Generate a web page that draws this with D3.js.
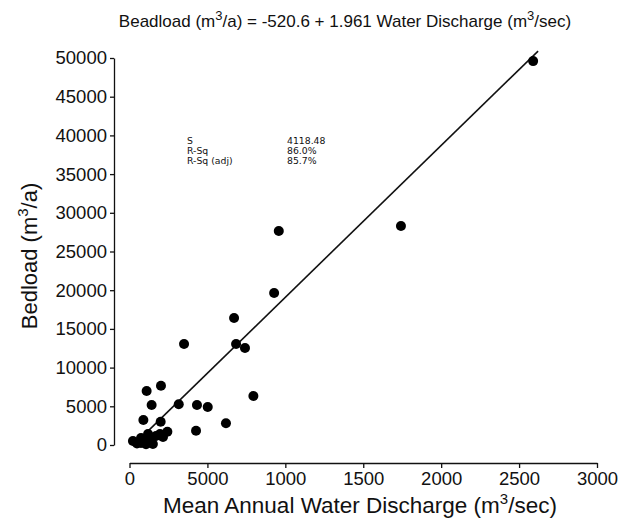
<!DOCTYPE html>
<html>
<head>
<meta charset="utf-8">
<script src="https://cdn.jsdelivr.net/npm/d3@7"></script>
<style>
  body { margin: 0; background: #fff; }
  text { font-family: "Liberation Sans", Arial, sans-serif; fill: #111; }
  .axis path, .axis line { stroke: #111; stroke-width: 1.3; }
  .stats text { font-family: "DejaVu Sans", Verdana, sans-serif; font-size: 9.3px; }
</style>
</head>
<body>
<svg class="chart"></svg>
<script>
// mean annual water discharge (m3/sec) and bedload (m3/a)
var discharge = [2590, 1742, 958, 928, 671, 350, 684, 741, 795,
                 110, 202, 142, 316, 433, 502, 89, 200, 619, 427, 243,
                 22, 48, 74, 100, 125, 144, 170, 196, 215, 106, 150, 74, 119];
var bedload   = [49600, 28300, 27650, 19640, 16400, 13050, 13050, 12530, 6330,
                 6980, 7660, 5170, 5260, 5170, 4910, 3230, 3010, 2800, 1850, 1720,
                 520, 200, 260, 650, 390, 900, 1160, 1420, 1030, 100, 130, 900, 1420];

var xTicks = [0, 500, 1000, 1500, 2000, 2500, 3000];
// the original plot prints "5000" under the 500 tick
var xTickLabels = ["0", "5000", "1000", "1500", "2000", "2500", "3000"];
var yTicks = [0, 5000, 10000, 15000, 20000, 25000, 30000, 35000, 40000, 45000, 50000];

// fitted line (as drawn on the plot) and its extent
var fitIntercept = -520.6;
var fitSlope = 19.61;
var fitRange = [110, 2622];

var statLabels = ["S", "R-Sq", "R-Sq (adj)"];
var statValues = ["4118.48", "86.0%", "85.7%"];

var width = 632, height = 523;
var svg = d3.select(".chart").attr("width", width).attr("height", height);

var x = d3.scaleLinear().domain([0, 3000]).range([129.5, 597]);
var y = d3.scaleLinear().domain([0, 50000]).range([445, 58]);

// x axis, sits below the data area
svg.append("g")
   .attr("class", "axis")
   .attr("transform", "translate(0,463)")
   .call(d3.axisBottom(x).tickValues(xTicks)
          .tickFormat(function(d, i) { return xTickLabels[i]; })
          .tickSizeInner(5).tickSizeOuter(0).tickPadding(4))
   .selectAll("text").style("font-size", "18.5px").style("font-family", "Liberation Sans, Arial, sans-serif");

// y axis, sits left of the data area
svg.append("g")
   .attr("class", "axis")
   .attr("transform", "translate(114,0)")
   .call(d3.axisLeft(y).tickValues(yTicks).tickFormat(d3.format("d"))
          .tickSizeInner(4).tickSizeOuter(0).tickPadding(3))
   .selectAll("text").style("font-size", "18.5px").style("font-family", "Liberation Sans, Arial, sans-serif");

svg.selectAll(".axis .domain").attr("stroke", "#111");

// fitted line
var fitLine = d3.line()
  .x(function(d) { return x(d); })
  .y(function(d) { return y(fitIntercept + fitSlope * d); });

svg.append("path")
   .datum(fitRange)
   .attr("d", fitLine)
   .attr("fill", "none")
   .attr("stroke", "#111")
   .attr("stroke-width", 1.6);

// points
svg.selectAll("circle.pt")
   .data(d3.range(discharge.length))
   .enter().append("circle")
   .attr("class", "pt")
   .attr("cx", function(i) { return x(discharge[i]); })
   .attr("cy", function(i) { return y(bedload[i]); })
   .attr("r", 5)
   .attr("fill", "#000");

// title
var title = svg.append("text")
   .attr("x", 345).attr("y", 27)
   .attr("text-anchor", "middle")
   .style("font-size", "17px");
title.append("tspan").text("Beadload (m");
title.append("tspan").attr("dy", "-7").style("font-size", "13px").text("3");
title.append("tspan").attr("dy", "7").text("/a) = -520.6 + 1.961 Water Discharge (m");
title.append("tspan").attr("dy", "-7").style("font-size", "13px").text("3");
title.append("tspan").attr("dy", "7").text("/sec)");

// x label
var xl = svg.append("text")
   .attr("x", 360).attr("y", 513)
   .attr("text-anchor", "middle")
   .style("font-size", "22.5px");
xl.append("tspan").text("Mean Annual Water Discharge (m");
xl.append("tspan").attr("dy", "-9").style("font-size", "15px").text("3");
xl.append("tspan").attr("dy", "9").text("/sec)");

// y label
var yl = svg.append("text")
   .attr("transform", "translate(37,256) rotate(-90)")
   .attr("text-anchor", "middle")
   .style("font-size", "22px");
yl.append("tspan").text("Bedload (m");
yl.append("tspan").attr("dy", "-9").style("font-size", "15px").text("3");
yl.append("tspan").attr("dy", "9").text("/a)");

// regression summary
var stats = svg.append("g").attr("class", "stats");
stats.selectAll("text.lab")
   .data(statLabels)
   .enter().append("text")
   .attr("x", 187)
   .attr("y", function(d, i) { return 144 + i * 10; })
   .text(function(d) { return d; });
stats.selectAll("text.val")
   .data(statValues)
   .enter().append("text")
   .attr("x", 287)
   .attr("y", function(d, i) { return 144 + i * 10; })
   .text(function(d) { return d; });
</script>
</body>
</html>
